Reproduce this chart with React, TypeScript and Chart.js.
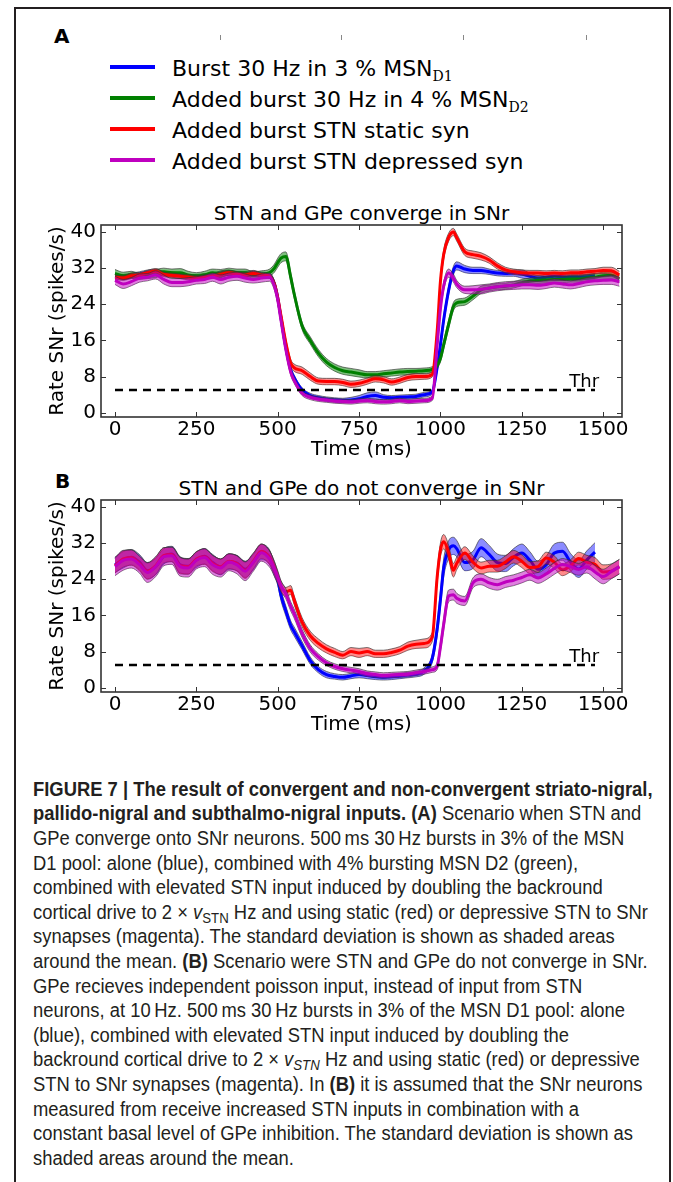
import React, { useEffect, useLayoutEffect, useRef, useState } from "react";
import { Chart, registerables } from "chart.js";
Chart.register(...registerables);

// ---------------- data ----------------
const TIME = [0,25,50,75,100,125,150,175,200,225,250,275,300,325,350,375,400,425,450,475,
  490,500,510,525,540,550,575,600,625,650,675,700,725,750,775,800,825,850,875,900,925,950,975,
  990,1000,1010,1025,1040,1050,
  1075,1100,1125,1150,1175,1200,1225,1250,1275,1300,1325,1350,1375,1400,1425,1450,1475,1500,1525,1550];

const X_TICKS = [0, 250, 500, 750, 1000, 1250, 1500];
const Y_TICKS = [0, 8, 16, 24, 32, 40];
const X_MIN = -43, X_MAX = 1558;
const Y_MIN = -0.95, Y_MAX = 41.55;
const THR = 5;
const THR_END = 1475;
const THR_LABEL = "Thr";

const LEGEND_LABELS = ["Burst 30 Hz in 3 % MSN", "Added burst 30 Hz in 4 % MSN", "Added burst STN static syn", "Added burst STN depressed syn"];
const LEGEND_SUBS = ["D1", "D2", "", ""];
const LINE_COLORS = ["#0000ff", "#008000", "#ff0000", "#bf00bf"];
const BAND_COLORS = ["rgba(0,0,255,0.45)", "rgba(0,128,0,0.5)", "rgba(255,0,0,0.45)", "rgba(191,0,191,0.5)"];

// Panel A
const A_BLUE = [30.2,30.0,30.4,30.6,31.0,31.2,30.8,30.6,30.3,30.1,30.0,30.2,30.4,30.8,31.0,30.8,30.7,30.9,30.6,30.3,
  28.5,25.5,21.0,14.5,9.5,7.8,5.0,3.8,3.3,3.0,2.8,2.7,2.8,3.1,3.6,3.8,3.4,3.3,3.4,3.5,3.6,4.0,4.6,
  10.0,15.0,20.5,27.0,31.5,32.5,
  31.8,31.5,31.5,31.2,30.9,30.8,30.9,30.7,30.2,29.8,30.0,30.2,30.1,30.0,30.0,30.1,30.2,null,null,null];
const A_BLUE_SD = [0.6,0.6,0.5,0.6,0.6,0.6,0.5,0.6,0.6,0.5,0.6,0.6,0.5,0.6,0.6,0.5,0.6,0.6,0.5,0.6,
  0.7,0.8,0.8,0.8,0.7,0.6,0.5,0.5,0.5,0.5,0.5,0.5,0.6,0.7,0.8,0.8,0.6,0.5,0.5,0.5,0.5,0.5,0.5,
  0.8,0.9,0.9,0.9,0.9,0.9,
  0.8,0.7,0.7,0.6,0.6,0.6,0.7,0.9,0.7,0.6,0.6,0.6,0.6,0.6,0.6,0.6,0.6,null,null,null];
const A_GREEN = [30.8,30.3,30.5,30.2,30.5,30.8,31.2,31.0,31.0,30.5,30.3,30.5,31.0,30.8,31.2,31.0,31.0,30.5,30.6,31.0,
  32.0,33.2,34.2,34.6,30.0,26.5,19.2,16.0,13.2,11.2,10.0,9.3,9.0,8.7,8.4,8.4,8.6,8.8,9.0,9.1,9.2,9.3,9.6,
  10.5,12.0,15.0,19.5,23.5,24.3,
  24.6,25.8,27.2,27.6,27.9,28.0,28.3,28.8,29.1,29.3,29.4,29.5,29.5,29.6,29.6,29.8,30.0,30.3,30.4,29.6];
const A_GREEN_SD = [0.9,0.8,0.8,0.7,0.8,0.9,0.8,0.8,0.9,0.8,0.7,0.8,0.8,0.9,0.8,0.8,0.8,0.7,0.8,0.8,
  0.9,1.0,1.0,1.0,1.0,0.9,0.8,0.8,0.8,0.8,0.8,0.8,0.8,0.8,0.7,0.7,0.7,0.7,0.7,0.7,0.6,0.6,0.6,
  0.7,0.8,0.9,0.9,0.9,0.8,
  0.8,0.8,0.8,0.7,0.7,0.7,0.7,0.7,0.7,0.7,0.7,0.7,0.7,0.7,0.7,0.7,0.8,0.8,0.8,0.8];
const A_RED = [30.0,29.8,30.3,30.5,31.0,31.3,30.6,30.4,30.2,30.0,29.8,30.0,30.2,30.6,31.0,30.7,30.5,30.8,30.5,30.2,
  28.5,25.5,21.5,15.5,11.0,10.0,9.3,8.0,7.0,6.9,6.9,6.7,6.3,6.5,7.0,7.5,7.3,6.8,7.2,7.8,8.0,8.0,8.5,
  18.0,29.0,35.0,38.8,40.0,38.8,
  35.6,35.0,34.6,33.8,32.5,31.6,31.2,31.0,30.9,30.9,30.8,30.9,30.8,31.0,31.0,31.2,31.3,31.5,31.4,30.5];
const A_RED_SD = [0.5,0.5,0.6,0.5,0.5,0.6,0.5,0.5,0.5,0.6,0.5,0.5,0.5,0.6,0.5,0.5,0.5,0.6,0.5,0.5,
  0.6,0.7,0.8,0.8,0.8,0.8,0.8,0.8,0.7,0.7,0.7,0.7,0.7,0.7,0.7,0.7,0.7,0.7,0.7,0.7,0.7,0.6,0.6,
  0.9,1.0,1.0,0.9,0.8,0.8,
  0.8,0.8,0.8,0.7,0.7,0.6,0.6,0.6,0.6,0.6,0.6,0.6,0.6,0.6,0.6,0.6,0.6,0.7,0.8,0.8];
const A_MAG = [29.3,28.5,29.0,29.8,30.0,30.5,29.5,28.8,28.8,29.0,29.3,29.5,30.0,29.5,30.0,30.2,29.8,29.5,29.8,30.0,
  28.0,25.0,20.5,14.0,9.0,7.2,4.3,3.4,3.0,2.8,2.6,2.5,2.4,2.6,2.7,2.5,2.4,2.5,2.7,2.5,2.6,2.7,3.2,
  15.0,23.0,28.0,30.9,29.8,28.5,
  27.2,27.2,27.3,27.6,27.9,28.1,28.2,28.3,28.3,28.2,28.4,28.7,28.5,28.3,28.6,29.0,29.2,29.3,29.4,29.0];
const A_MAG_SD = [0.9,1.0,0.9,0.9,0.8,0.9,1.0,0.9,0.9,0.9,0.8,0.9,0.9,1.0,0.9,0.9,0.9,0.8,0.9,0.9,
  0.9,0.9,0.9,0.8,0.7,0.6,0.5,0.5,0.5,0.5,0.5,0.5,0.5,0.5,0.5,0.5,0.5,0.5,0.5,0.5,0.5,0.5,0.5,
  0.8,0.9,0.9,0.9,0.9,0.8,
  0.8,0.9,1.0,0.9,0.9,0.9,0.9,0.9,0.9,0.9,0.9,0.9,0.9,0.9,0.9,0.9,0.9,0.9,1.0,1.0];

// Panel B
const B_BLUE = [27.2,28.3,28.9,27.8,25.9,26.8,29.1,29.6,27.2,26.9,28.3,29.1,27.7,26.7,27.9,27.6,26.2,27.8,30.0,28.9,
  26.0,24.0,20.5,17.0,13.8,12.5,9.3,6.0,4.0,2.9,2.5,2.3,2.6,2.9,2.7,2.4,2.3,2.4,2.6,2.8,3.0,3.7,6.5,
  13.0,19.5,26.5,30.5,31.4,30.8,
  27.7,28.3,31.0,29.5,27.7,27.5,28.9,29.8,28.2,26.2,27.2,29.8,30.2,27.8,26.3,28.3,30.0,null,null,null];
const B_BLUE_SD = [1.7,1.8,1.7,1.7,1.8,1.8,1.7,1.7,1.8,1.7,1.7,1.7,1.8,1.7,1.7,1.7,1.8,1.7,1.7,1.6,
  1.4,1.3,1.2,1.1,1.0,1.0,0.9,0.8,0.7,0.7,0.6,0.6,0.6,0.7,0.7,0.6,0.6,0.6,0.6,0.6,0.6,0.7,0.9,
  1.5,1.8,2.0,2.0,1.9,1.8,
  1.8,1.9,2.0,2.0,1.9,1.8,1.9,2.0,1.9,1.8,1.9,2.0,2.0,1.9,1.9,2.0,2.1,null,null,null];
const B_RED = [27.0,28.5,28.8,27.5,25.8,27.0,29.3,29.5,27.0,26.8,28.5,29.0,27.5,26.8,28.0,27.5,26.0,28.0,30.2,28.8,
  26.5,24.5,22.5,21.2,21.6,19.5,14.5,11.5,9.8,8.6,7.8,7.2,8.0,7.7,8.0,7.5,7.5,7.8,8.3,9.2,9.6,9.8,11.2,
  24.5,30.5,32.3,30.0,26.0,27.5,
  29.8,27.8,26.5,26.9,26.9,27.8,29.0,28.0,26.6,26.8,28.7,27.8,26.1,27.0,28.6,27.8,27.3,25.6,25.8,26.8];
const B_RED_SD = [1.6,1.8,1.7,1.6,1.8,1.9,1.7,1.6,1.8,1.7,1.6,1.7,1.8,1.7,1.6,1.7,1.8,1.7,1.6,1.5,
  1.4,1.2,1.1,1.0,1.0,1.0,1.0,1.0,1.0,0.9,0.9,0.8,0.9,1.0,0.9,0.8,0.8,0.8,0.8,0.9,0.9,1.0,1.0,
  1.3,1.5,1.6,1.6,1.5,1.4,
  1.4,1.4,1.3,1.3,1.3,1.4,1.4,1.4,1.3,1.3,1.3,1.4,1.3,1.3,1.4,1.5,1.5,1.6,1.6,1.6];
const B_MAG = [26.8,28.2,28.5,27.3,25.5,26.8,29.0,29.2,26.8,26.5,28.2,28.8,27.2,26.5,27.8,27.2,25.8,27.8,29.9,28.5,
  26.3,24.5,22.5,20.8,18.0,16.5,12.0,8.7,6.8,5.5,4.7,4.2,3.9,3.6,3.1,2.9,2.7,2.8,2.9,3.0,3.3,3.6,4.0,
  4.8,9.0,14.0,20.3,20.6,19.8,
  19.2,23.2,24.0,23.2,22.8,23.4,23.8,24.4,25.0,24.3,25.2,26.4,27.3,26.8,26.2,26.8,25.6,24.6,25.7,26.8];
const B_MAG_SD = [2.0,2.2,2.0,1.9,2.2,2.2,2.0,1.9,2.1,2.0,1.9,2.0,2.1,2.0,1.9,2.0,2.1,2.0,1.9,1.8,
  1.6,1.4,1.2,1.1,1.0,1.0,0.9,0.8,0.7,0.6,0.6,0.6,0.6,0.6,0.6,0.6,0.6,0.6,0.6,0.6,0.6,0.6,0.6,
  0.8,1.0,1.2,1.3,1.2,1.1,
  1.0,1.1,1.2,1.2,1.2,1.2,1.2,1.2,1.2,1.2,1.3,1.3,1.3,1.3,1.3,1.4,1.5,1.6,1.6,1.6];

const TITLE_A = "STN and GPe converge in SNr";
const TITLE_B = "STN and GPe do not converge in SNr";
const X_LABEL = "Time (ms)";
const Y_LABEL = "Rate SNr (spikes/s)";

// ---------------- chart helpers ----------------
const FONT = "DejaVu Sans";

const framePlugin = {
  id: "frame",
  afterDatasetsDraw(chart: any) {
    const { ctx, chartArea: a, scales } = chart;
    const x = scales.x, y = scales.y;
    ctx.save();
    ctx.strokeStyle = "#333";
    ctx.lineWidth = 1;
    const seg = (x1: number, y1: number, x2: number, y2: number) => {
      ctx.beginPath(); ctx.moveTo(x1, y1); ctx.lineTo(x2, y2); ctx.stroke();
    };
    X_TICKS.forEach((v) => {
      const px = Math.round(x.getPixelForValue(v)) + 0.5;
      seg(px, a.bottom, px, a.bottom - 5);
      seg(px, a.top, px, a.top + 5);
    });
    Y_TICKS.forEach((v) => {
      const py = Math.round(y.getPixelForValue(v)) + 0.5;
      seg(a.left, py, a.left + 5, py);
      seg(a.right, py, a.right - 5, py);
    });
    ctx.lineWidth = 1.6;
    ctx.strokeRect(a.left, a.top, a.right - a.left, a.bottom - a.top);
    ctx.fillStyle = "#000";
    ctx.font = `18px "${FONT}"`;
    ctx.textBaseline = "alphabetic";
    ctx.textAlign = "left";
    ctx.fillText(THR_LABEL, x.getPixelForValue(1396), y.getPixelForValue(THR) - 3);
    ctx.restore();
  },
};

function buildDatasets(series: { mean: (number | null)[]; sd: (number | null)[]; idx: number }[]) {
  const ds: any[] = [];
  const total = series.length * 3 + 1;
  let k = 0;
  series.forEach((s) => {
    const lo = TIME.map((t, i) => ({ x: t, y: s.mean[i] == null ? null : (s.mean[i] as number) - (s.sd[i] as number) }));
    const hi = TIME.map((t, i) => ({ x: t, y: s.mean[i] == null ? null : (s.mean[i] as number) + (s.sd[i] as number) }));
    const mid = TIME.map((t, i) => ({ x: t, y: s.mean[i] }));
    ds.push({
      data: lo, borderColor: "rgba(50,50,50,0.65)", borderWidth: 1, pointRadius: 0, fill: false,
      cubicInterpolationMode: "monotone", order: total - k++,
    });
    ds.push({
      data: hi, borderColor: "rgba(50,50,50,0.65)", borderWidth: 1, pointRadius: 0,
      fill: "-1", backgroundColor: BAND_COLORS[s.idx],
      cubicInterpolationMode: "monotone", order: total - k++,
    });
    ds.push({
      data: mid, borderColor: LINE_COLORS[s.idx], borderWidth: 3, pointRadius: 0, fill: false,
      cubicInterpolationMode: "monotone", order: total - k++,
    });
  });
  ds.push({
    data: [{ x: 0, y: THR }, { x: THR_END, y: THR }],
    borderColor: "#000", borderWidth: 2.5, borderDash: [8, 6], pointRadius: 0, fill: false, order: 0,
  });
  return ds;
}

function Panel({ top, series }: { top: number; series: any[] }) {
  const ref = useRef<HTMLCanvasElement | null>(null);
  useEffect(() => {
    const chart = new Chart(ref.current as HTMLCanvasElement, {
      type: "line",
      data: { datasets: buildDatasets(series) },
      options: {
        animation: false,
        responsive: false,
        events: [],
        layout: { padding: { top: 25, left: 0, right: 51, bottom: 8 } },
        plugins: { legend: { display: false }, tooltip: { enabled: false }, title: { display: false } },
        scales: {
          x: {
            type: "linear", min: X_MIN, max: X_MAX,
            grid: { display: false, drawTicks: false }, border: { display: false },
            afterBuildTicks: (s: any) => { s.ticks = X_TICKS.map((v) => ({ value: v })); },
            afterFit: (s: any) => { s.height = 45; },
            ticks: { color: "#000", font: { family: FONT, size: 20 }, padding: 1, maxRotation: 0, callback: (v: any) => String(v) },
            title: { display: true, text: X_LABEL, color: "#000", font: { family: FONT, size: 20 }, padding: { top: 0, bottom: 0 } },
          },
          y: {
            type: "linear", min: Y_MIN, max: Y_MAX,
            grid: { display: false, drawTicks: false }, border: { display: false },
            afterBuildTicks: (s: any) => { s.ticks = Y_TICKS.map((v) => ({ value: v })); },
            afterFit: (s: any) => { s.width = 101; },
            ticks: { color: "#000", font: { family: FONT, size: 20 }, padding: 5, callback: (v: any) => String(v) },
            title: { display: true, text: Y_LABEL, color: "#000", font: { family: FONT, size: 20 }, padding: { top: 46, bottom: 0 } },
          },
        },
      },
      plugins: [framePlugin],
    } as any);
    return () => chart.destroy();
  }, []);
  return (
    <canvas ref={ref} width={673} height={270}
      style={{ position: "absolute", left: 0, top, width: 673, height: 270, display: "block" }} />
  );
}

function Txt({ x, baseline, size, bold, children, center, family }: any) {
  const fam = family || FONT;
  const style: any = {
    position: "absolute", top: baseline - 0.846 * size, fontFamily: fam, fontSize: size,
    lineHeight: `${size}px`, fontWeight: bold ? "bold" : "normal", whiteSpace: "nowrap", color: "#000",
  };
  if (center) { style.left = x; style.transform = "translateX(-50%)"; } else style.left = x;
  return <div style={style}>{children}</div>;
}

const SERIES_A = [
  { mean: A_BLUE, sd: A_BLUE_SD, idx: 0 },
  { mean: A_GREEN, sd: A_GREEN_SD, idx: 1 },
  { mean: A_RED, sd: A_RED_SD, idx: 2 },
  { mean: A_MAG, sd: A_MAG_SD, idx: 3 },
];
const SERIES_B = [
  { mean: B_BLUE, sd: B_BLUE_SD, idx: 0 },
  { mean: B_RED, sd: B_RED_SD, idx: 2 },
  { mean: B_MAG, sd: B_MAG_SD, idx: 3 },
];

const LEGEND_ROWS_Y = [67, 98, 129, 160];
const STRAY_TICKS_X = [220, 341, 463, 586];

const vSTN = <><i>v</i><sub style={{ fontSize: "0.72em", verticalAlign: "-0.3em", lineHeight: 0 }}>STN</sub></>;
const vSTNi = <i>v<sub style={{ fontSize: "0.72em", verticalAlign: "-0.3em", lineHeight: 0 }}>STN</sub></i>;

const CAPTION_LINES = [
  <b>FIGURE 7 | The result of convergent and non-convergent striato-nigral,</b>,
  <><b>pallido-nigral and subthalmo-nigral inputs. (A)</b> Scenario when STN and</>,
  <>GPe converge onto SNr neurons. 500{"\u2009"}ms 30{"\u2009"}Hz bursts in 3% of the MSN</>,
  <>D1 pool: alone (blue), combined with 4% bursting MSN D2 (green),</>,
  <>combined with elevated STN input induced by doubling the backround</>,
  <>cortical drive to 2 × {vSTN} Hz and using static (red) or depressive STN to SNr</>,
  <>synapses (magenta). The standard deviation is shown as shaded areas</>,
  <>around the mean. <b>(B)</b> Scenario were STN and GPe do not converge in SNr.</>,
  <>GPe recieves independent poisson input, instead of input from STN</>,
  <>neurons, at 10{"\u2009"}Hz. 500{"\u2009"}ms 30{"\u2009"}Hz bursts in 3% of the MSN D1 pool: alone</>,
  <>(blue), combined with elevated STN input induced by doubling the</>,
  <>backround cortical drive to 2 × {vSTNi} Hz and using static (red) or depressive</>,
  <>STN to SNr synapses (magenta). In <b>(B)</b> it is assumed that the SNr neurons</>,
  <>measured from receive increased STN inputs in combination with a</>,
  <>constant basal level of GPe inhibition. The standard deviation is shown as</>,
  <>shaded areas around the mean.</>,
];

export default function App() {
  const measureRef = useRef<HTMLSpanElement | null>(null);
  const [scale, setScale] = useState(1);
  useLayoutEffect(() => {
    if (measureRef.current) {
      const w = measureRef.current.getBoundingClientRect().width;
      if (w > 0) setScale(615 / w);
    }
  }, []);

  const capFs = 20, capLh = 24.6;
  return (
    <div style={{ position: "absolute", left: 0, top: 0, width: 673, height: 1182, overflow: "hidden", background: "#fff" }}>
      <div style={{ position: "absolute", left: 14, top: 7, width: 657, height: 1300, boxSizing: "border-box",
        borderLeft: "2.5px solid #231f20", borderTop: "2.5px solid #231f20", borderRight: "2.5px solid #231f20" }} />

      <Txt x={54} baseline={43} size={20} bold>A</Txt>
      <Txt x={55} baseline={488} size={20} bold>B</Txt>

      {STRAY_TICKS_X.map((x, i) => (
        <div key={i} style={{ position: "absolute", left: x, top: 35, width: 1, height: 5, background: "#888" }} />
      ))}

      {LEGEND_LABELS.map((lab, i) => (
        <React.Fragment key={i}>
          <div style={{ position: "absolute", left: 110, top: LEGEND_ROWS_Y[i] - 2, width: 45, height: 4, background: LINE_COLORS[i] }} />
          <Txt x={172} baseline={LEGEND_ROWS_Y[i] + 9.5} size={22}>
            {lab}
            {LEGEND_SUBS[i] ? (
              <span style={{ fontFamily: "DejaVu Serif", fontSize: 14, position: "relative", top: 5 }}>{LEGEND_SUBS[i]}</span>
            ) : null}
          </Txt>
        </React.Fragment>
      ))}

      <Txt x={361.5} baseline={220} size={20} center>{TITLE_A}</Txt>
      <Txt x={361.5} baseline={495} size={20} center>{TITLE_B}</Txt>

      <Panel top={200} series={SERIES_A} />
      <Panel top={475} series={SERIES_B} />

      <div style={{ position: "absolute", left: 33, top: 776.8, transform: `scaleX(${scale})`, transformOrigin: "0 0",
        fontFamily: "'Liberation Sans', Arial, sans-serif", fontSize: capFs, lineHeight: `${capLh}px`, color: "#231f20" }}>
        {CAPTION_LINES.map((ln, i) => (
          <div key={i} style={{ whiteSpace: "nowrap", height: capLh }}>
            <span ref={i === 5 ? measureRef : undefined}>{ln}</span>
          </div>
        ))}
      </div>
    </div>
  );
}
